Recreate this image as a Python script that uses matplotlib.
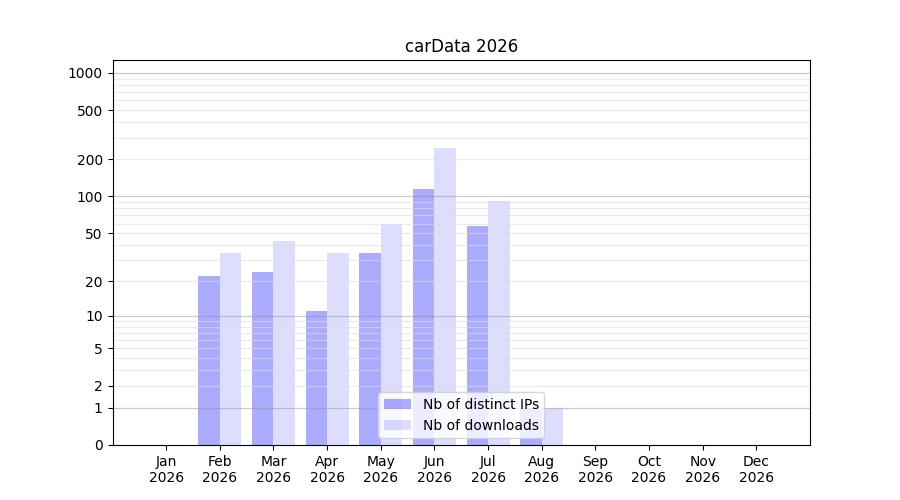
import numpy as np
import matplotlib
matplotlib.use("Agg")
import matplotlib.pyplot as plt

months = ["Jan", "Feb", "Mar", "Apr", "May", "Jun", "Jul", "Aug", "Sep", "Oct", "Nov", "Dec"]
year = "2026"
distinct_ips = [0, 22, 24, 11, 34, 115, 57, 1, 0, 0, 0, 0]
downloads = [0, 34, 43, 34, 60, 245, 92, 1, 0, 0, 0, 0]
ytick_vals = [0, 1, 2, 5, 10, 20, 50, 100, 200, 500, 1000]

fig, ax = plt.subplots(figsize=(9, 5), dpi=100)
x = np.arange(len(months))
w = 0.4
ax.bar(x - w / 2, distinct_ips, width=w, color="blue", alpha=0.33, label="Nb of distinct IPs")
ax.bar(x + w / 2, downloads, width=w, color="blue", alpha=0.133, label="Nb of downloads")

ax.set_yscale("function", functions=(lambda v: np.log10(np.clip(v, 0, None) + 1),
                                     lambda v: 10 ** v - 1))
ax.set_ylim(0, 1270)
ax.set_xlim(-1, 12)

# grid lines
for dec in [1, 10, 100, 1000]:
    ax.axhline(dec, color="#999999", alpha=0.5, lw=0.9, zorder=1.5)
    if dec < 1000:
        for m in range(2, 10):
            ax.axhline(dec * m, color="#dddddd", alpha=0.6, lw=0.9, zorder=1.5)

ax.set_yticks(ytick_vals)
ax.set_yticklabels([str(v) for v in ytick_vals])
ax.yaxis.set_minor_locator(matplotlib.ticker.NullLocator())
ax.set_xticks(x)
ax.set_xticklabels([f"{m}\n{year}" for m in months])
ax.set_title("carData 2026")
ax.legend(loc="lower center")
fig.savefig("out.png")
